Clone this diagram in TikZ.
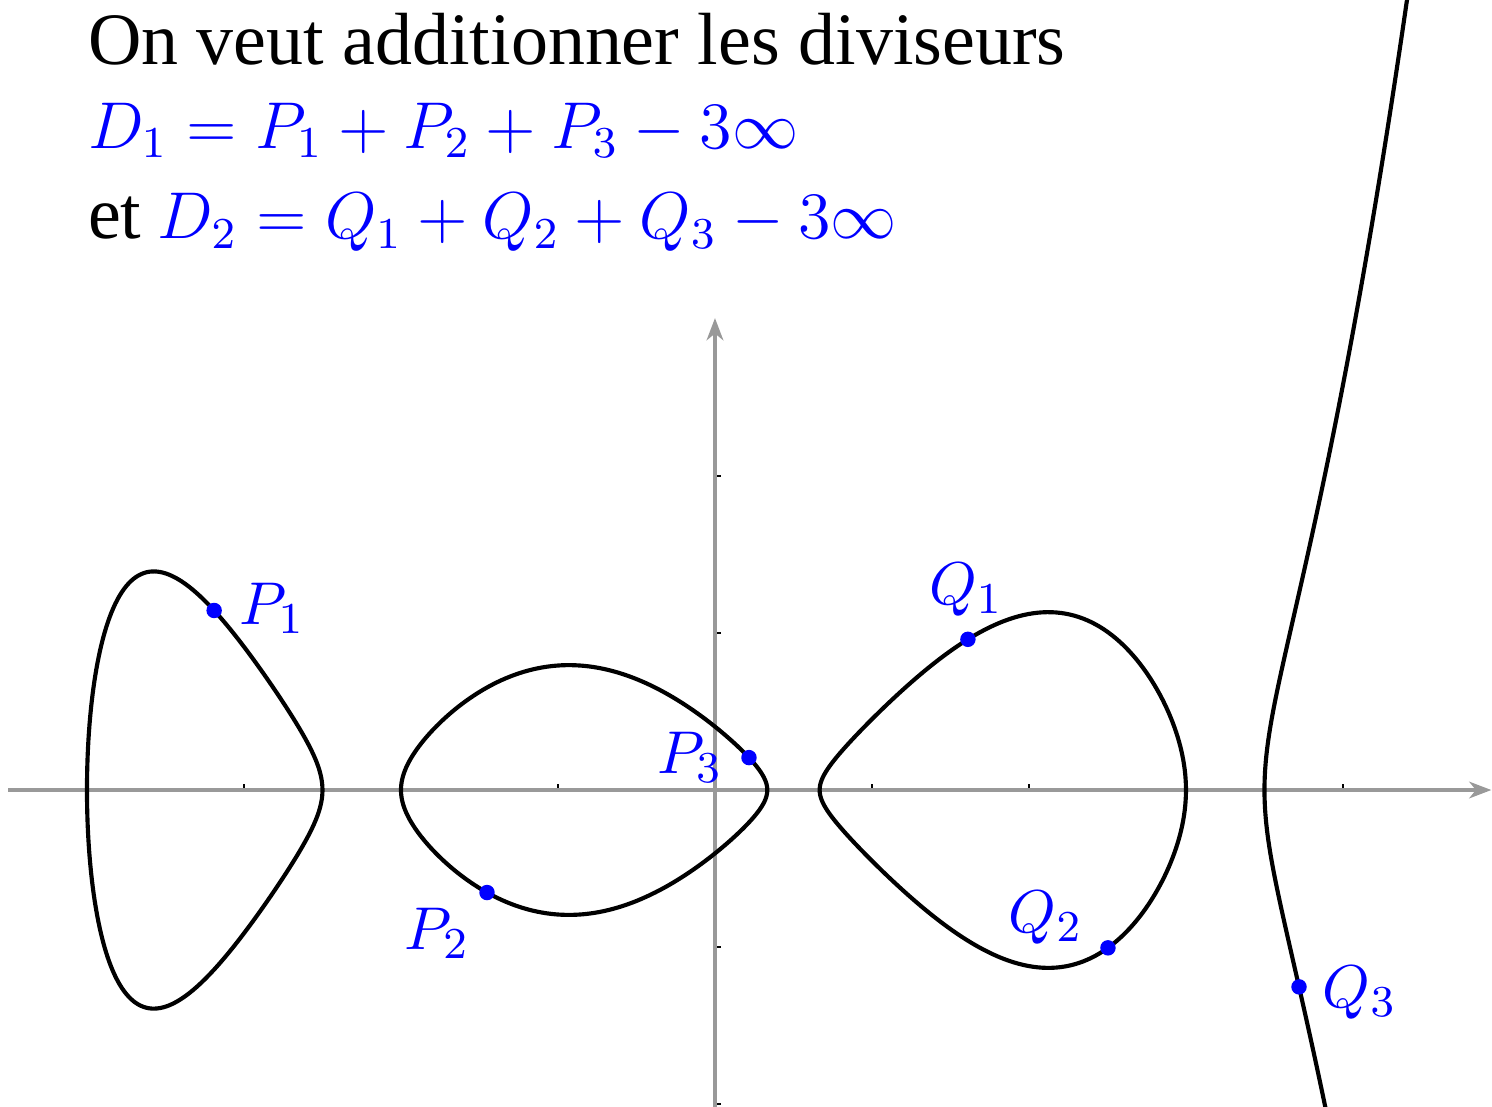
\documentclass[tikz,border=0pt]{standalone}
\usepackage{fontspec}
\setmainfont{Liberation Serif}
\usetikzlibrary{arrows.meta}
\begin{document}
\begin{tikzpicture}[
  x=1cm,y=1cm,
  axisline/.style={draw=black!40, line width=0.7pt, -{Stealth[length=4pt,width=3pt,inset=1.2pt]}},
  curve/.style={draw=black, line width=0.75pt},
  pt/.style={circle, fill=blue, inner sep=0pt, minimum size=2.8pt},
  lab/.style={text=blue, font={\fontsize{11.1}{13}\selectfont}, inner sep=0pt},
  txt/.style={font={\fontsize{11.85}{14}\selectfont}, inner sep=0pt, anchor=base west},
  tickm/.style={draw=black, line width=0.5pt},
  declare function={
    F(\x)=(\x+4)*(\x+2.5)*(\x+2)*(\x-1/3)*(\x-2/3)*(\x-3)*(\x-3.5)*0.0035;
    qa(\x)=abs((\x+2)*(\x-1/3)*(\x-2/3)*(\x-3)*(\x-3.5)*0.0035);
    qb(\x)=abs((\x+4)*(\x+2.5)*(\x-2/3)*(\x-3)*(\x-3.5)*0.0035);
    qc(\x)=abs((\x+4)*(\x+2.5)*(\x+2)*(\x-1/3)*(\x-3.5)*0.0035);
    qd(\x)=abs((\x+4)*(\x+2.5)*(\x+2)*(\x-1/3)*(\x-2/3)*(\x-3)*0.0035);
  }
]
\newcommand{\bigtxt}{\fontsize{13.4}{15}\selectfont}
\path[use as bounding box] (-4.554,-2.013) rectangle (4.949,5.032);
\clip (-4.554,-2.013) rectangle (4.949,5.032);

% ticks
\foreach \i in {-4,-3,-2,-1,1,2,3,4} \draw[tickm] (\i,0) -- (\i,0.04);
\foreach \j in {-2,-1,1,2} \draw[tickm] (0,\j) -- (0.04,\j);

% axes
\coordinate (xa) at (-4.5,0);
\coordinate (xb) at (4.945,0);
\coordinate (ya) at (0,-2.1);
\coordinate (yb) at (0,3.006);
\draw[axisline] (xa) -- (xb);
\draw[axisline] (ya) -- (yb);

% curve loops
\draw[curve] plot[domain=0:360, samples=240, variable=\t]
  ({-3.25-0.75*cos(\t)}, {0.75*sin(\t)*sqrt(qa(-3.25-0.75*cos(\t)))}) -- cycle;
\draw[curve] plot[domain=0:360, samples=240, variable=\t]
  ({-5/6-7/6*cos(\t)}, {7/6*sin(\t)*sqrt(qb(-5/6-7/6*cos(\t)))}) -- cycle;
\draw[curve] plot[domain=0:360, samples=240, variable=\t]
  ({11/6-7/6*cos(\t)}, {7/6*sin(\t)*sqrt(qc(11/6-7/6*cos(\t)))}) -- cycle;
\draw[curve] plot[domain=-0.65:0.97, samples=200, variable=\u]
  ({3.5+\u*\u}, {\u*sqrt(qd(3.5+\u*\u))});

% points
\node[pt] (P1) at (-3.19, {sqrt(abs(F(-3.19)))}) {};
\node[pt] (P2) at (-1.452, {-sqrt(abs(F(-1.452)))}) {};
\node[pt] (P3) at (0.2166, {sqrt(abs(F(0.2166)))}) {};
\node[pt] (Q1) at (1.611, {sqrt(abs(F(1.611)))}) {};
\node[pt] (Q2) at (2.503, {-sqrt(abs(F(2.503)))}) {};
\node[pt] (Q3) at (3.72, {-sqrt(abs(F(3.72)))}) {};

% labels
\node[lab] (lP1) at (-2.82, 1.16) {$P_1$};
\node[lab] (lP2) at (-1.77, -0.91) {$P_2$};
\node[lab] (lP3) at (-0.159, 0.21) {$P_3$};
\node[lab] (lQ1) at (1.599, 1.274) {$Q_1$};
\node[lab] (lQ2) at (2.108, -0.815) {$Q_2$};
\node[lab] (lQ3) at (4.108, -1.293) {$Q_3$};

% text
\node[txt] (t1) at (-4.0, 4.618) {\bigtxt On veut additionner les diviseurs};
\node[txt, text=blue] (t2) at (-4.0, 4.089) {$D_1 = P_1 + P_2 + P_3 - 3\infty$};
\node[txt] (t3) at (-4.0, 3.51) {{\bigtxt et} \textcolor{blue}{$D_2 = Q_1 + Q_2 + Q_3 - 3\infty$}};
\end{tikzpicture}
\end{document}
